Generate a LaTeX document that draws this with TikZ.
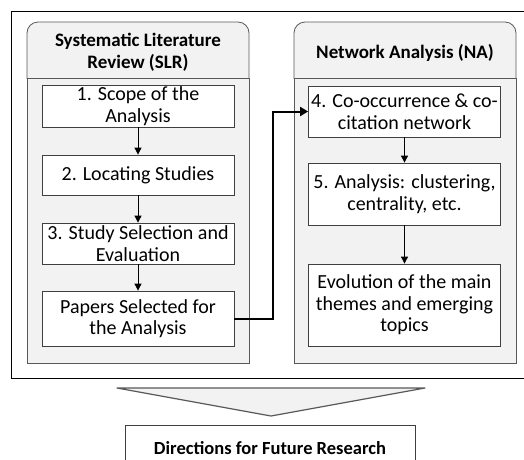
\documentclass[tikz,border=0pt]{standalone}
\usepackage{fontspec}
\setmainfont{Carlito}
\usetikzlibrary{arrows.meta, positioning}
\definecolor{panelgray}{HTML}{F2F2F2}
\definecolor{edgegray}{HTML}{595959}
\definecolor{boxedge}{HTML}{3F3F3F}
\tikzset{
    stepbox/.style={draw=boxedge, fill=white, line width=0.8pt, minimum width=192pt, inner sep=0pt, align=center, font=\fontsize{20}{21.5}\selectfont},
    panelhead/.style={align=center, font=\fontsize{19}{22}\selectfont\bfseries},
    flow/.style={-{Triangle[length=7pt,width=7pt]}, line width=0.8pt},
    bigflow/.style={-{Triangle[length=8pt,width=9pt]}, line width=2pt}
}
\begin{document}
\begin{tikzpicture}[x=1pt, y=-1pt]
    \useasboundingbox (0,0) rectangle (524,459);
    % frame round both panels
    \draw[line width=1pt] (11,11) rectangle (540,378);
    % panels
    \foreach \px/\name in {27/slr, 294/na} {
        \begin{scope}
            \clip (\px-3,18) rectangle ++(228,60);
            \filldraw[fill=panelgray, draw=edgegray, line width=0.8pt, rounded corners=11pt] (\px,22) rectangle ++(222,90);
        \end{scope}
        \filldraw[fill=panelgray, draw=edgegray, line width=0.8pt] (\px,78) rectangle ++(222,285);
    }
    \node[panelhead] (slrhead) at (138,52) {Systematic Literature\\Review (SLR)};
    \node[panelhead] (nahead) at (405,53) {Network Analysis (NA)};
    % steps of the review
    \node[stepbox, minimum height=42pt] (scope) at (138,106) {1. Scope of the\\Analysis};
    \node[stepbox, minimum height=40pt] (locate) at (138,175) {2. Locating Studies};
    \node[stepbox, minimum height=41pt] (select) at (138,243.5) {3. Study Selection and\\Evaluation};
    \node[stepbox, minimum height=55pt] (papers) at (138,318.5) {Papers Selected for\\the Analysis};
    % steps of the network analysis
    \node[stepbox, minimum height=51pt] (network) at (404.5,111.5) {4. Co-occurrence \& co-\\citation network};
    \node[stepbox, minimum height=62pt] (cluster) at (404.5,194) {5. Analysis: clustering,\\centrality, etc.};
    \node[stepbox, minimum height=82pt] (themes) at (404.5,305) {Evolution of the main\\themes and emerging\\topics};
    \draw[flow] (scope) -- (locate);
    \draw[flow] (locate) -- (select);
    \draw[flow] (select) -- (papers);
    \draw[flow] (network) -- (cluster);
    \draw[flow] (cluster) -- (themes);
    \coordinate (turn) at (273,318.5);
    \draw[bigflow] (papers.east) -- (turn) |- (network.west);
    % towards the directions
    \coordinate (chevl) at (117,388);
    \coordinate (chevr) at (425,388);
    \coordinate (chevtip) at (271,416);
    \filldraw[fill=panelgray, draw=edgegray, line width=1.2pt, line join=round] (chevl) -- (chevr) -- (chevtip) -- cycle;
    \node[draw=boxedge, fill=white, line width=0.8pt, minimum width=290pt, minimum height=46pt, font=\fontsize{18.5}{21}\selectfont\bfseries] (future) at (270,448) {Directions for Future Research};
\end{tikzpicture}
\end{document}
